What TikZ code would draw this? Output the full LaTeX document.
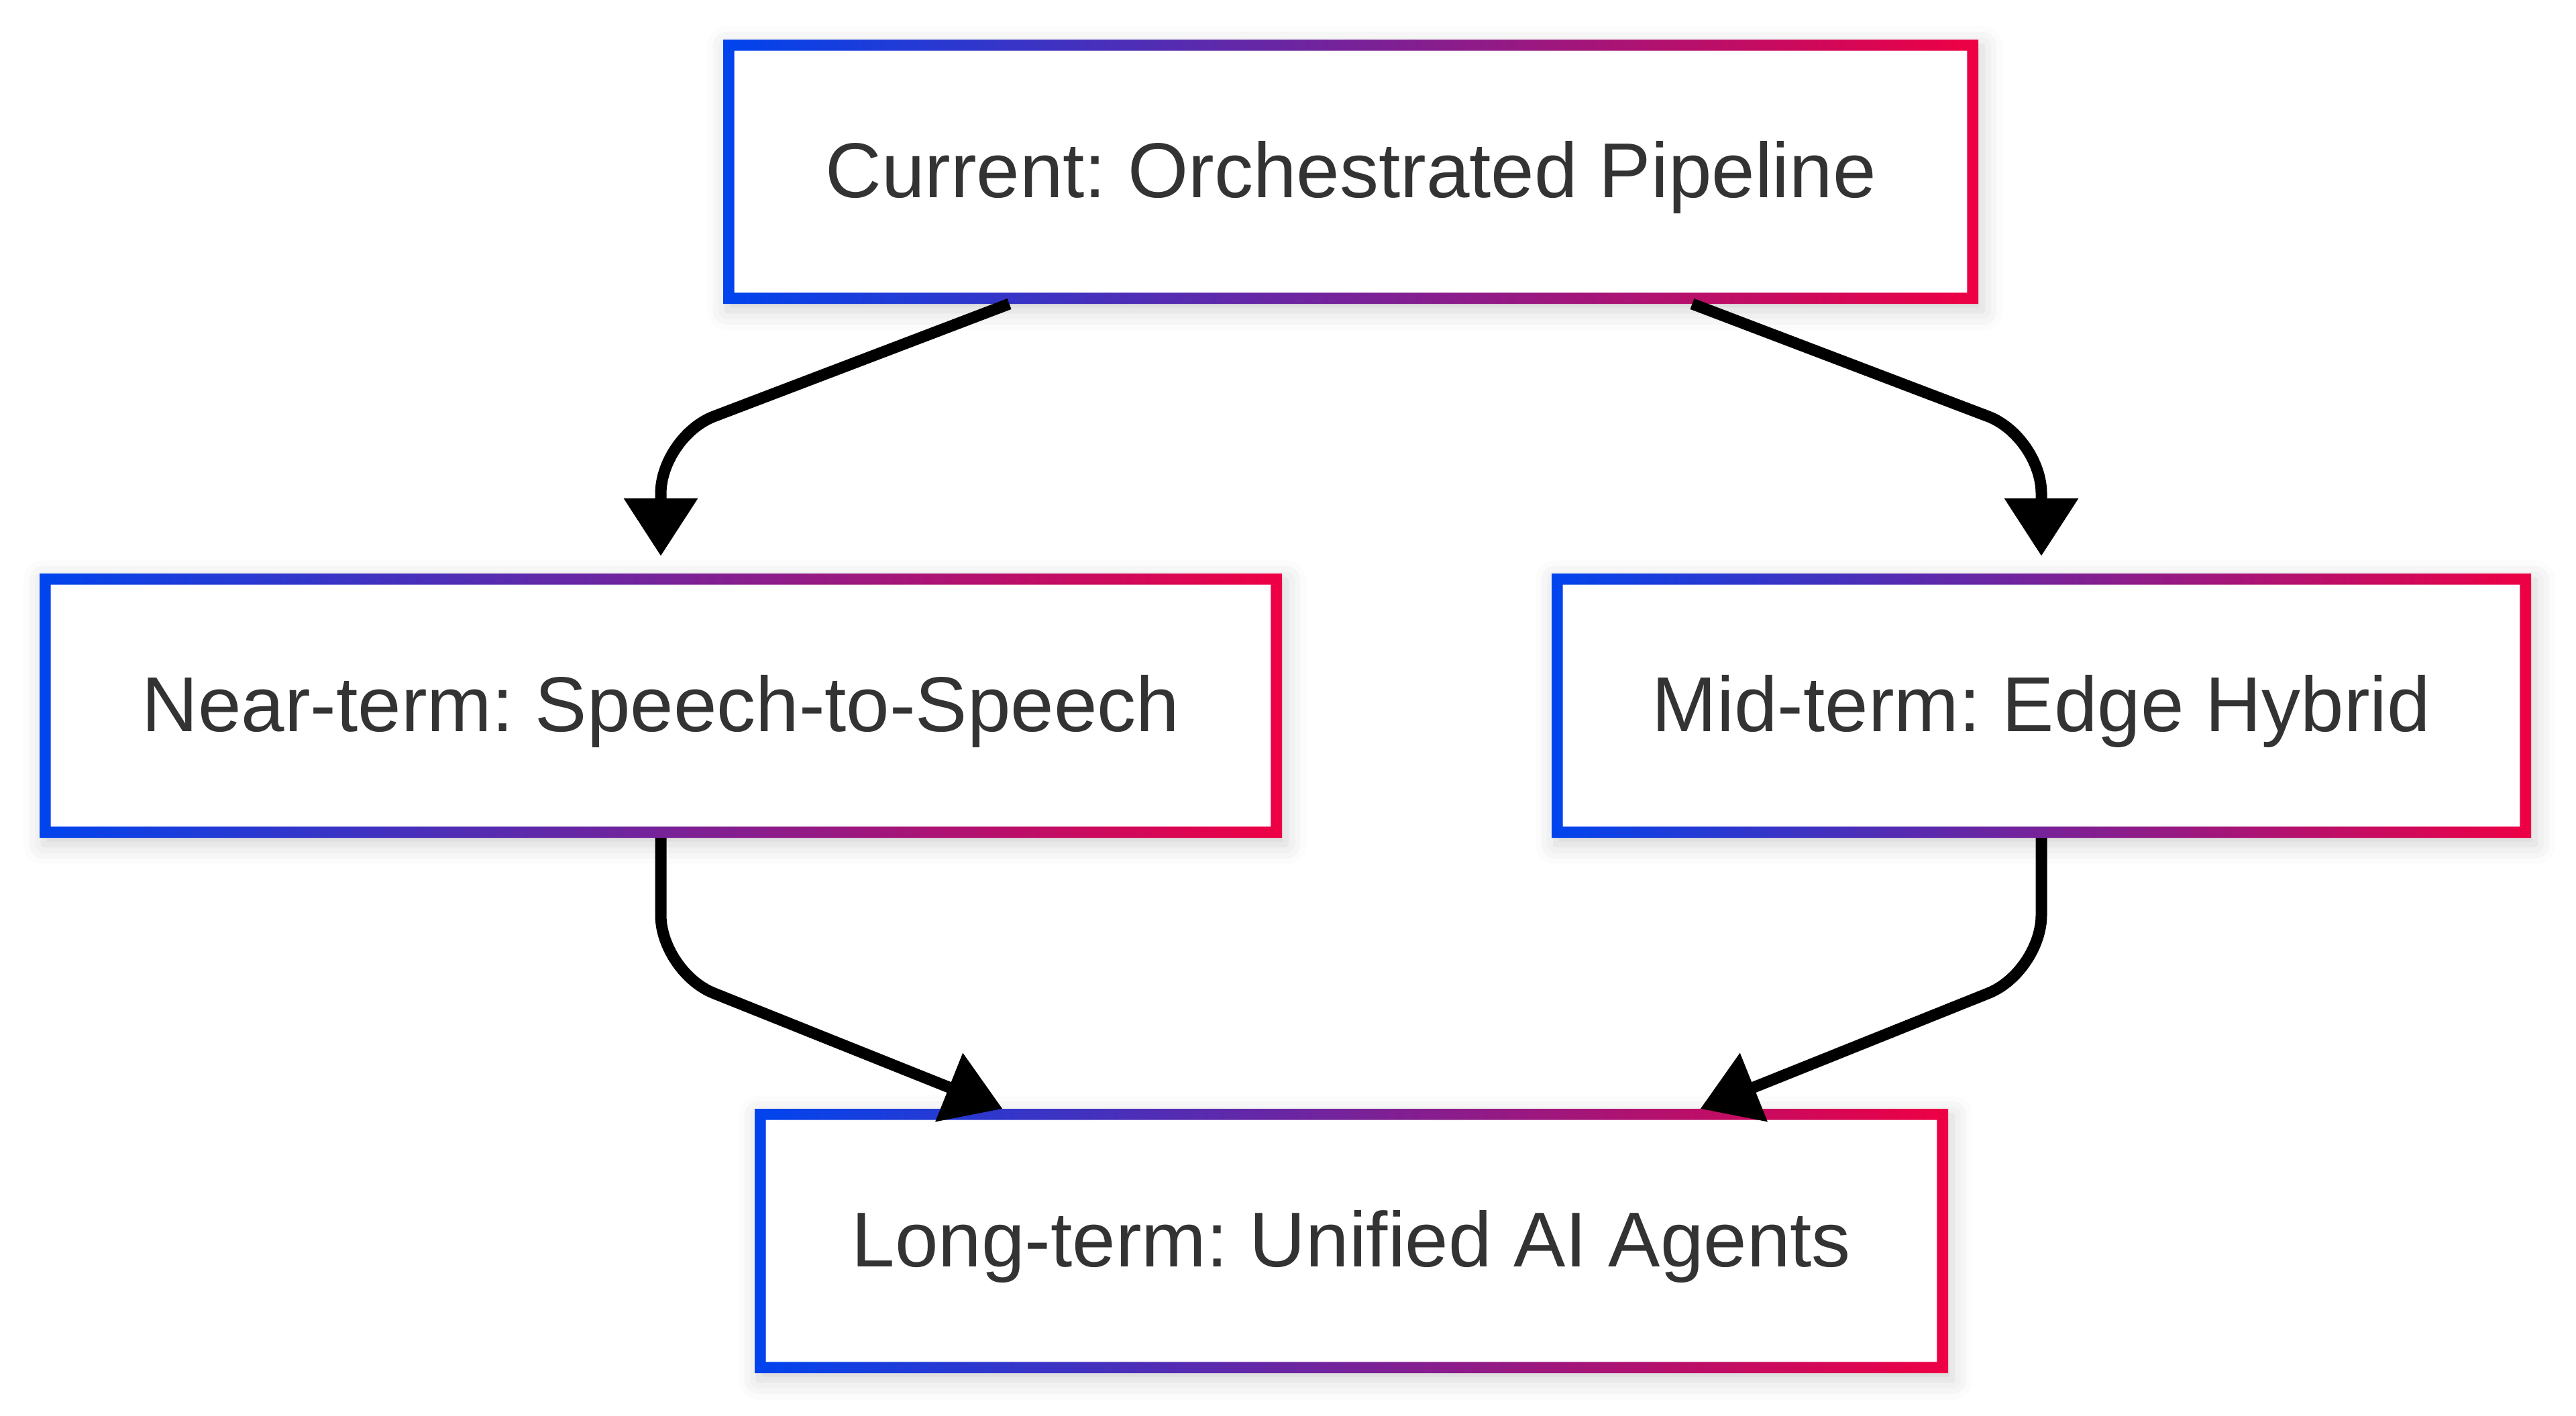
\documentclass[tikz,border=0pt]{standalone}
\usepackage{fontspec}
\setmainfont{Liberation Sans}
\usepackage{tikz}
\usetikzlibrary{arrows.meta,shadows.blur}
\definecolor{gradblue}{RGB}{0,68,238}
\definecolor{gradred}{RGB}{238,0,68}
\definecolor{txtgray}{RGB}{51,51,51}
\def\gradframe(#1){\shade[left color=gradblue, right color=gradred, even odd rule] (#1.south west) rectangle (#1.north east) ([shift={(0.167,0.167)}]#1.south west) rectangle ([shift={(-0.167,-0.167)}]#1.north east);}
\frenchspacing

\begin{document}
\begin{tikzpicture}[
		stage/.style={fill=white, outer sep=0pt, minimum height=3.94cm, text height=0.96cm, text depth=0.2cm, text=txtgray, font=\fontsize{33}{40}\selectfont, blur shadow={shadow xshift=0.06cm, shadow yshift=-0.1cm, shadow blur radius=0.3cm, shadow opacity=18}},
		flow/.style={line width=0.17cm, rounded corners=0.85cm, -{Triangle[length=0.86cm,width=1.06cm]}}
	]
		%%%%% START %%%%%
		
		\useasboundingbox (0, 0) rectangle (38.4, -21.1);
		
		\node[stage, minimum width=18.71cm] (current) at (20.135, -2.56) {Current: Orchestrated Pipeline};
		\gradframe(current);
		
		\node[stage, minimum width=18.52cm] (nearterm) at (9.85, -10.52) {Near-term: Speech-to-Speech};
		\gradframe(nearterm);
		\node[stage, minimum width=14.60cm] (midterm) at (30.43, -10.52) {Mid-term: Edge Hybrid};
		\gradframe(midterm);
		
		\node[stage, minimum width=17.79cm] (longterm) at (20.145, -18.50) {Long-term: Unified AI Agents};
		\gradframe(longterm);
		
		\draw[flow] ([xshift=-5.09cm]current.south) -- ([yshift=2.04cm]nearterm.north) -- ([yshift=0.26cm]nearterm.north);
		\draw[flow] ([xshift=5.09cm]current.south) -- ([yshift=2.04cm]midterm.north) -- ([yshift=0.26cm]midterm.north);
		
		\draw[flow] (nearterm.south) -- ([yshift=-2.0cm]nearterm.south) -- ([xshift=-5.2cm]longterm.north);
		\draw[flow] (midterm.south) -- ([yshift=-2.0cm]midterm.south) -- ([xshift=5.2cm]longterm.north);
		
		%%%%% END %%%%%
	\end{tikzpicture}
\end{document}
